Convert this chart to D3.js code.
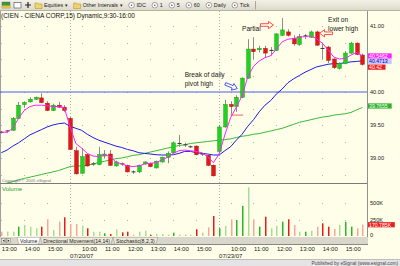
<!DOCTYPE html>
<html>
<head>
<meta charset="utf-8" />
<title>CIEN 15 min</title>
<style>
  body { margin: 0; background: #fff; }
  svg { display: block; }
  text { font-family: "Liberation Sans", Arial, sans-serif; }
</style>
</head>
<body>
<script src="https://d3js.org/d3.v7.min.js"></script>
<script>
var times = [
  "07/19 13:00","07/19 13:15","07/19 13:30","07/19 13:45","07/19 14:00","07/19 14:15","07/19 14:30","07/19 14:45",
  "07/19 15:00","07/19 15:15","07/19 15:30","07/19 15:45",
  "07/20 09:30","07/20 09:45","07/20 10:00","07/20 10:15","07/20 10:30","07/20 10:45","07/20 11:00","07/20 11:15",
  "07/20 11:30","07/20 11:45","07/20 12:00","07/20 12:15","07/20 12:30","07/20 12:45","07/20 13:00","07/20 13:15",
  "07/20 13:30","07/20 13:45","07/20 14:00","07/20 14:15","07/20 14:30","07/20 14:45","07/20 15:00","07/20 15:15",
  "07/20 15:30","07/20 15:45",
  "07/23 09:30","07/23 09:45","07/23 10:00","07/23 10:15","07/23 10:30","07/23 10:45","07/23 11:00","07/23 11:15",
  "07/23 11:30","07/23 11:45","07/23 12:00","07/23 12:15","07/23 12:30","07/23 12:45","07/23 13:00","07/23 13:15",
  "07/23 13:30","07/23 13:45","07/23 14:00","07/23 14:15","07/23 14:30","07/23 14:45","07/23 15:00","07/23 15:15",
  "07/23 15:30","07/23 15:45"
];
var dayStarts = ["07/20 09:30", "07/23 09:30"];
var dayLabels = ["07/20/07", "07/23/07"];

var open = [39.39,39.40,39.42,39.60,39.81,39.85,39.89,39.91,39.83,39.72,39.80,39.77,
  39.60,39.11,38.77,39.05,38.91,38.90,39.03,39.06,38.88,38.91,38.89,38.79,38.79,38.91,38.92,38.85,38.94,39.01,39.08,39.22,39.20,39.18,39.18,39.06,39.04,38.89,
  39.10,39.47,39.81,39.78,39.92,40.21,40.65,40.64,40.66,40.62,40.63,40.86,40.91,40.81,40.72,40.84,40.83,40.91,40.66,40.68,40.50,40.36,40.43,40.59,40.74,40.56];
var high = [39.41,39.42,39.62,39.85,39.86,39.92,39.93,39.98,39.86,39.82,39.85,39.80,
  39.62,39.17,39.15,39.06,38.94,39.17,39.12,39.12,38.96,38.93,38.90,38.81,38.90,38.95,38.93,38.96,39.02,39.10,39.25,39.35,39.23,39.19,39.19,39.08,39.05,38.90,
  39.50,39.88,39.86,39.95,40.22,40.80,40.83,40.70,40.70,40.68,40.89,41.12,40.95,40.86,40.88,40.88,40.93,40.93,40.75,40.70,40.51,40.45,40.62,40.76,40.75,40.58];
var low = [39.37,39.38,39.41,39.59,39.76,39.84,39.88,39.83,39.71,39.71,39.76,39.70,
  39.12,38.75,38.76,38.87,38.88,38.89,39.00,38.88,38.87,38.88,38.78,38.76,38.77,38.90,38.86,38.84,38.93,38.92,39.07,39.17,39.17,39.15,39.04,39.03,38.88,38.72,
  39.09,39.46,39.66,39.70,39.91,40.20,40.50,40.60,40.52,40.55,40.62,40.85,40.84,40.70,40.70,40.80,40.82,40.70,40.50,40.44,40.35,40.34,40.42,40.58,40.56,40.40];
var close = [39.39,39.41,39.60,39.80,39.84,39.89,39.92,39.84,39.72,39.80,39.77,39.72,
  39.13,38.76,39.02,38.88,38.91,39.05,39.06,38.89,38.94,38.91,38.79,38.79,38.89,38.94,38.87,38.95,39.01,39.07,39.23,39.22,39.20,39.17,39.05,39.06,38.89,38.73,
  39.47,39.81,39.78,39.92,40.21,40.65,40.61,40.66,40.59,40.63,40.88,40.94,40.86,40.73,40.84,40.85,40.91,40.71,40.66,40.48,40.37,40.43,40.59,40.74,40.57,40.42];

// moving averages (fast = magenta, mid = blue, slow = green)
var maFast = [39.39,39.39,39.45,39.60,39.72,39.78,39.80,39.80,39.79,39.78,39.78,39.76,
  39.47,39.22,39.15,39.07,39.03,39.02,39.05,39.02,38.94,38.91,38.88,38.87,38.88,38.91,38.92,38.93,38.97,39.01,39.07,39.11,39.12,39.11,39.10,39.08,39.02,38.93,
  39.06,39.35,39.61,39.77,39.94,40.23,40.39,40.47,40.52,40.55,40.65,40.76,40.80,40.81,40.83,40.84,40.85,40.81,40.74,40.64,40.53,40.50,40.51,40.56,40.60,40.5462];
var maMid = [39.08,39.12,39.18,39.23,39.29,39.35,39.39,39.43,39.47,39.50,39.52,39.53,
  39.48,39.45,39.42,39.36,39.31,39.27,39.24,39.21,39.18,39.16,39.13,39.11,39.08,39.07,39.06,39.05,39.045,39.045,39.05,39.07,39.10,39.10,39.08,39.07,39.06,39.045,
  39.045,39.11,39.17,39.27,39.36,39.48,39.58,39.70,39.80,39.87,39.97,40.045,40.14,40.20,40.25,40.30,40.34,40.38,40.40,40.42,40.43,40.43,40.445,40.456,40.464,40.4713];
var maSlow = [38.60,38.62,38.64,38.67,38.69,38.71,38.73,38.75,38.77,38.79,38.81,38.84,
  38.87,38.88,38.88,38.89,38.91,38.93,38.95,38.97,38.99,39.00,39.02,39.04,39.05,39.07,39.09,39.11,39.13,39.15,39.17,39.19,39.20,39.22,39.23,39.24,39.25,39.26,
  39.27,39.28,39.29,39.31,39.33,39.34,39.36,39.37,39.39,39.41,39.43,39.45,39.48,39.51,39.54,39.56,39.58,39.60,39.62,39.63,39.65,39.66,39.67,39.69,39.73,39.7655];

// volume in thousands; tone: G/R strong, g/r pale
var volume = [65,65,65,141,167,141,117,141,253,91,217,283,
  182,182,156,117,61,65,41,30,102,56,65,20,65,80,20,30,30,20,50,20,20,20,102,50,131,303,
  117,152,253,242,455,738,253,141,292,117,152,217,253,167,65,65,80,141,192,141,106,167,217,141,117,170.785];
var volTone = ["r","g","g","G","g","g","g","R","r","g","r","R",
  "r","r","g","R","g","g","G","R","g","R","R","g","g","g","R","g","g","g","G","r","r","g","R","g","r","R",
  "G","g","r","G","G","g","r","G","R","g","g","G","R","r","g","G","g","r","R","R","r","g","G","G","r","r"];

var pivotHigh = 40.00;
var stopLine = { from: "07/23 10:00", to: "07/23 10:30", price: 39.65 };
var priceTicks = [39.00, 39.50, 40.00, 41.00];
var gridLevels = [38.75, 39.00, 39.25, 39.50, 39.75, 40.00, 40.25, 40.50, 40.75, 41.00];
var volTicks = [0, 250, 500];

var notes = [
  { lines: ["Partial"], at: "07/23 10:30", price: 40.96 },
  { lines: ["Exit on", "lower high"], at: "07/23 14:15", price: 41.09 },
  { lines: ["Break of daily", "pivot high"], at: "07/20 14:30", price: 40.26 }
];
var arrows = [
  { at: "07/23 12:00", price: 41.015, dir: "right", color: "#ff2020" },
  { at: "07/23 13:45", price: 40.89, dir: "left", color: "#ff2020" },
  { at: "07/23 10:15", price: 40.05, dir: "down-right", color: "#3344ff" }
];

var toolbarItems = [
  { kind: "folder", label: "Equities \u25BE" },
  { kind: "folder", label: "Other Intervals \u25BE" },
  { kind: "radio", label: "IDC" },
  { kind: "radio", label: "1" },
  { kind: "radio", label: "5" },
  { kind: "radio", label: "60" },
  { kind: "radio", label: "Daily" },
  { kind: "radio", label: "Tick" }
];
var tabs = ["Volume", "Directional Movement(14,14)", "Stochastic(8,2,3)"];

var W = 400, H = 266;
var plotR = 367;
var bg = "#fefee9";

var svg = d3.select("body").append("svg")
  .attr("width", W)
  .attr("height", H);

svg.append("rect").attr("width", W).attr("height", H).attr("fill", bg);

// ---------- toolbar ----------
var defs = svg.append("defs");
var grad = defs.append("linearGradient")
  .attr("id", "tb").attr("x1", 0).attr("y1", 0).attr("x2", 0).attr("y2", 1);
grad.append("stop").attr("offset", "0%").attr("stop-color", "#f3f1e6");
grad.append("stop").attr("offset", "100%").attr("stop-color", "#dcd9cb");
svg.append("rect").attr("x", 0).attr("y", 0).attr("width", W).attr("height", 10.5).attr("fill", "url(#tb)");
svg.append("line").attr("x1", 0).attr("x2", W).attr("y1", 10.5).attr("y2", 10.5).attr("stroke", "#b5b2a4");

var tb = svg.append("g");
tb.append("rect").attr("x", 2).attr("y", 2).attr("width", 8).attr("height", 6).attr("fill", "#3a9a3a").attr("stroke", "#555").attr("stroke-width", 0.4);
tb.append("rect").attr("x", 2).attr("y", 5.5).attr("width", 8).attr("height", 2.5).attr("fill", "#e8c040");
tb.append("rect").attr("x", 14).attr("y", 2.5).attr("width", 7).attr("height", 5.5).attr("fill", "#fff").attr("stroke", "#446").attr("stroke-width", 0.6);
tb.append("path").attr("d", "M25,5 h6 M28,2 v6").attr("stroke", "#222").attr("stroke-width", 1.2);

var tx = 35;
toolbarItems.forEach(function(d) {
  if (d.kind === "folder") {
    tb.append("path").attr("d", "M" + tx + ",3 h2.5 l1,1 h3.5 v4.5 h-7 z")
      .attr("fill", "#f1d36a").attr("stroke", "#a58a2a").attr("stroke-width", 0.5);
    var t = tb.append("text").attr("x", tx + 9).attr("y", 7.3).attr("font-size", 5.4).attr("fill", "#222").text(d.label);
    tx += 9 + t.node().getComputedTextLength() + 6;
  } else {
    tb.append("circle").attr("cx", tx + 3).attr("cy", 5.2).attr("r", 2.8)
      .attr("fill", "#fff").attr("stroke", "#555").attr("stroke-width", 0.5);
    tb.append("circle").attr("cx", tx + 3).attr("cy", 5.2).attr("r", 0.8).attr("fill", "#555");
    var t2 = tb.append("text").attr("x", tx + 8).attr("y", 7.3).attr("font-size", 5.4).attr("fill", "#222").text(d.label);
    tx += 8 + t2.node().getComputedTextLength() + 6;
  }
});
tb.append("line").attr("x1", tx).attr("x2", tx).attr("y1", 1).attr("y2", 9.5).attr("stroke", "#a9a698");

// ---------- scales ----------
var x = d3.scalePoint().domain(times).range([1.3, 362.4]);
var y = d3.scaleLinear().domain([38.6, 41.2]).range([184.4, 12.8]);
var yv = d3.scaleLinear().domain([0, 800]).range([236, 183.2]);

defs.append("clipPath").attr("id", "clipPrice").append("rect")
  .attr("x", 0).attr("y", 11).attr("width", plotR).attr("height", 172);
defs.append("clipPath").attr("id", "clipVol").append("rect")
  .attr("x", 0).attr("y", 184).attr("width", plotR).attr("height", 53);

// frame lines
svg.append("line").attr("x1", 0.5).attr("x2", 0.5).attr("y1", 11).attr("y2", 237).attr("stroke", "#a0a0a0");
svg.append("line").attr("x1", plotR + 0.5).attr("x2", plotR + 0.5).attr("y1", 11).attr("y2", 245).attr("stroke", "#909090");
svg.append("line").attr("x1", 0).attr("x2", plotR).attr("y1", 183.5).attr("y2", 183.5).attr("stroke", "#7a7a7a");

// grid dots
var hourBars = times.filter(function(t) { return t.slice(9) === "00"; });
var dots = svg.append("g").attr("fill", "#b4b4b4");
gridLevels.forEach(function(p) {
  hourBars.forEach(function(t) {
    dots.append("rect").attr("x", Math.round(x(t))).attr("y", Math.round(y(p))).attr("width", 1).attr("height", 1);
  });
});
[250, 500].forEach(function(v) {
  hourBars.forEach(function(t) {
    dots.append("rect").attr("x", Math.round(x(t))).attr("y", Math.round(yv(v))).attr("width", 1).attr("height", 1);
  });
});

// day separators
svg.append("g").selectAll("line").data(dayStarts).enter().append("line")
  .attr("x1", function(d) { return Math.round(x(d)) + 0.5; })
  .attr("x2", function(d) { return Math.round(x(d)) + 0.5; })
  .attr("y1", 11).attr("y2", 237)
  .attr("stroke", "#b0b0b0").attr("stroke-dasharray", "1,2");

// title
svg.append("text").attr("x", 1).attr("y", 18).attr("font-size", 6.5).attr("fill", "#111")
  .text("(CIEN - CIENA CORP,15) Dynamic,9:30-16:00");

// ---------- price panel ----------
var price = svg.append("g").attr("clip-path", "url(#clipPrice)");

price.append("line").attr("x1", 0).attr("x2", plotR)
  .attr("y1", y(pivotHigh)).attr("y2", y(pivotHigh))
  .attr("stroke", "#4d5cf5").attr("stroke-width", 1.2);

var lineGen = function(arr) {
  return d3.line().x(function(d, i) { return x(times[i]); }).y(function(d) { return y(d); })(arr);
};
price.append("path").attr("d", lineGen(maSlow)).attr("fill", "none").attr("stroke", "#3cb83c").attr("stroke-width", 1);
price.append("path").attr("d", lineGen(maMid)).attr("fill", "none").attr("stroke", "#1c1ce6").attr("stroke-width", 1);

var bars = times.map(function(t, i) {
  return { t: t, o: open[i], h: high[i], l: low[i], c: close[i] };
});
function tone(d) {
  if (Math.abs(d.c - d.o) < 0.015) return "doji";
  return d.c > d.o ? "up" : "down";
}
var candles = price.append("g").selectAll("g").data(bars).enter().append("g");
candles.append("line")
  .attr("x1", function(d) { return Math.round(x(d.t)) + 0.5; })
  .attr("x2", function(d) { return Math.round(x(d.t)) + 0.5; })
  .attr("y1", function(d) { return y(d.h); })
  .attr("y2", function(d) { return y(d.l); })
  .attr("stroke", "#8c8c8c").attr("stroke-width", 1);
candles.filter(function(d) { return tone(d) !== "doji"; }).append("rect")
  .attr("x", function(d) { return Math.round(x(d.t)) - 1.3; })
  .attr("width", 3.6)
  .attr("y", function(d) { return y(Math.max(d.o, d.c)); })
  .attr("height", function(d) { return Math.max(1, Math.abs(y(d.o) - y(d.c))); })
  .attr("fill", function(d) { return tone(d) === "up" ? "#1ed21e" : "#e41616"; })
  .attr("stroke", function(d) { return tone(d) === "up" ? "#14a014" : "#a81010"; })
  .attr("stroke-width", 0.5);
candles.filter(function(d) { return tone(d) === "doji"; }).append("line")
  .attr("x1", function(d) { return Math.round(x(d.t)) - 1.5; })
  .attr("x2", function(d) { return Math.round(x(d.t)) + 2.5; })
  .attr("y1", function(d) { return y(d.c); })
  .attr("y2", function(d) { return y(d.c); })
  .attr("stroke", "#333").attr("stroke-width", 1);

price.append("path").attr("d", lineGen(maFast)).attr("fill", "none").attr("stroke", "#ff22ff").attr("stroke-width", 1);

price.append("line")
  .attr("x1", x(stopLine.from)).attr("x2", x(stopLine.to) + 1)
  .attr("y1", y(stopLine.price)).attr("y2", y(stopLine.price))
  .attr("stroke", "#f04040").attr("stroke-width", 0.8);

// annotations
notes.forEach(function(n) {
  n.lines.forEach(function(s, k) {
    svg.append("text").attr("x", x(n.at)).attr("y", y(n.price) + 2.2 + k * 8.5)
      .attr("font-size", 6.6).attr("fill", "#1a1a1a").text(s);
  });
});
// hollow arrow, tip at origin, pointing right
var arrowShape = "M0,0 L-5,-3.6 L-5,-1.3 L-13,-1.3 L-13,1.3 L-5,1.3 L-5,3.6 Z";
arrows.forEach(function(a) {
  var ax = x(a.at), ay = y(a.price), rot = 0;
  if (a.dir === "right") { ax -= 3; rot = 0; }
  if (a.dir === "left") { ax += 3; rot = 180; }
  if (a.dir === "down-right") { ax += 1; rot = 22; }
  svg.append("path").attr("d", arrowShape)
    .attr("transform", "translate(" + ax + "," + ay + ") rotate(" + rot + ")")
    .attr("fill", "none").attr("stroke", a.color).attr("stroke-width", 0.8);
});

svg.append("text").attr("x", 2).attr("y", 181.5).attr("font-size", 4.3).attr("fill", "#777")
  .text("Copyright \u00A9 2005 eSignal");

// price axis
var pAxis = svg.append("g").attr("transform", "translate(" + (plotR + 2) + ",0)")
  .call(d3.axisRight(y).tickValues(priceTicks).tickFormat(d3.format(".2f")).tickSize(0).tickPadding(1));
pAxis.select(".domain").remove();
pAxis.selectAll("text").attr("font-size", 5.6).attr("fill", "#222").attr("font-family", "Liberation Sans, Arial, sans-serif");

function valueTag(text, fill, color, yy) {
  svg.append("rect").attr("x", plotR + 1).attr("y", yy - 2.6).attr("width", text.length * 3.1 + 2).attr("height", 5.2).attr("fill", fill);
  svg.append("text").attr("x", plotR + 2).attr("y", yy + 1.9).attr("font-size", 5.2).attr("fill", color).text(text);
}
// stacked tags near the last values, kept apart so they do not overlap
var tags = [
  { text: d3.format(".4f")(maFast[63]), fill: "#ff22ff", color: "#fff", yy: y(maFast[63]) },
  { text: d3.format(".4f")(maMid[63]), fill: "#c8c8ff", color: "#0000c8", yy: y(maMid[63]) },
  { text: d3.format(".2f")(close[63]), fill: "#ee1c1c", color: "#fff", yy: y(close[63]) },
  { text: d3.format(".4f")(maSlow[63]), fill: "#30b030", color: "#effff0", yy: y(maSlow[63]) - 1.5 }
];
tags.sort(function(a, b) { return a.yy - b.yy; });
for (var k = 1; k < tags.length; k++) {
  if (tags[k].yy - tags[k - 1].yy < 5.6) tags[k].yy = tags[k - 1].yy + 5.6;
}
tags.forEach(function(t) { valueTag(t.text, t.fill, t.color, t.yy); });

// ---------- volume panel ----------
svg.append("text").attr("x", 2).attr("y", 191).attr("font-size", 6).attr("fill", "#22a022").text("Volume");
var volColors = { G: "#27b827", g: "#a6dd9c", R: "#e41c1c", r: "#f5a79f" };
svg.append("g").attr("clip-path", "url(#clipVol)")
  .selectAll("rect").data(volume).enter().append("rect")
  .attr("x", function(d, i) { return Math.round(x(times[i])); })
  .attr("width", 1.5)
  .attr("y", function(d) { return yv(d); })
  .attr("height", function(d) { return yv(0) - yv(d); })
  .attr("fill", function(d, i) { return volColors[volTone[i]]; });

var vAxis = svg.append("g").attr("transform", "translate(" + (plotR + 2) + ",0)")
  .call(d3.axisRight(yv).tickValues(volTicks).tickFormat(function(d) { return d === 0 ? "0" : d + "K"; }).tickSize(0).tickPadding(1));
vAxis.select(".domain").remove();
vAxis.selectAll("text").attr("font-size", 5.6).attr("fill", "#222").attr("font-family", "Liberation Sans, Arial, sans-serif");
vAxis.selectAll(".tick").filter(function(d) { return d === 0; }).select("text").attr("dy", "0.1em");
valueTag(d3.format(".3f")(volume[63]) + "K", "#ee1c1c", "#fff", yv(volume[63]));

// ---------- tab bar ----------
svg.append("rect").attr("x", 0).attr("y", 237).attr("width", plotR + 1).attr("height", 7.5).attr("fill", "#d9d6cc");
svg.append("line").attr("x1", 0).attr("x2", plotR + 1).attr("y1", 244.5).attr("y2", 244.5).attr("stroke", "#888");
svg.append("rect").attr("x", 1.5).attr("y", 238.5).attr("width", 4).attr("height", 4.5).attr("fill", "#ece9d8").attr("stroke", "#666").attr("stroke-width", 0.4);
svg.append("rect").attr("x", 6.5).attr("y", 238.5).attr("width", 4).attr("height", 4.5).attr("fill", "#ece9d8").attr("stroke", "#666").attr("stroke-width", 0.4);
svg.append("path").attr("d", "M4.5,239.5 L2.7,240.8 L4.5,242 Z M7.7,239.5 L9.5,240.8 L7.7,242 Z").attr("fill", "#222");
var tabG = svg.append("g");
var tabX = 17;
tabs.forEach(function(s, i) {
  var g = tabG.append("g");
  var shape = g.append("path");
  var t = g.append("text").attr("x", tabX + 3).attr("y", 243).attr("font-size", 5.2).attr("fill", "#222").text(s);
  var w = t.node().getComputedTextLength() + 6;
  shape.attr("d", "M" + tabX + ",237.3 h" + w + " l-2,6.9 h-" + (w - 4) + " z")
    .attr("fill", i === 0 ? "#ffffff" : "#ece9d8").attr("stroke", "#777").attr("stroke-width", 0.4);
  tabX += w;
});

// ---------- time axis ----------
var xAxis = svg.append("g").attr("transform", "translate(0,245)")
  .call(d3.axisBottom(x).tickValues(hourBars).tickFormat(function(d) { return d.slice(6); }).tickSize(0).tickPadding(2));
xAxis.select(".domain").remove();
xAxis.selectAll("text").attr("font-size", 6).attr("fill", "#222").attr("text-anchor", "start")
  .attr("font-family", "Liberation Sans, Arial, sans-serif");

svg.append("g").selectAll("text").data(dayStarts).enter().append("text")
  .attr("x", function(d) { return x(d); })
  .attr("y", 258)
  .attr("font-size", 6).attr("fill", "#222")
  .text(function(d, i) { return dayLabels[i]; });

// ---------- footer ----------
svg.append("rect").attr("x", 0).attr("y", 259.5).attr("width", W).attr("height", 6.5).attr("fill", "#e4e4e4");
svg.append("line").attr("x1", 0).attr("x2", W).attr("y1", 259.5).attr("y2", 259.5).attr("stroke", "#bdbdbd");
svg.append("text").attr("x", 398).attr("y", 264.6).attr("text-anchor", "end").attr("font-size", 4.8).attr("fill", "#444")
  .text("Published by eSignal (www.esignal.com)");
</script>
</body>
</html>
